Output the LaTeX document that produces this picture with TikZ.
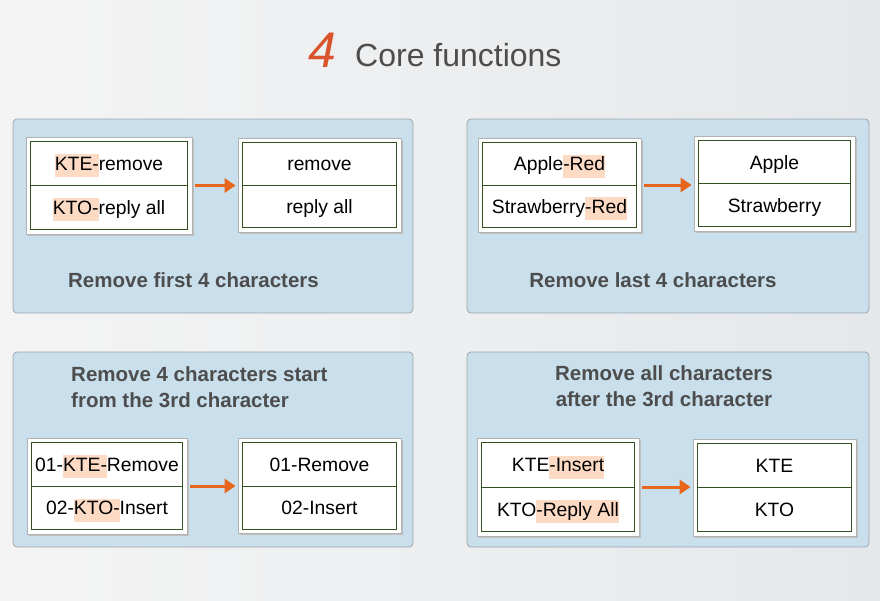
\documentclass[tikz,border=0pt]{standalone}
\usepackage{fontspec}
\setmainfont{Liberation Sans}
\usepackage{xcolor}
\usetikzlibrary{positioning,calc,arrows.meta}

\definecolor{bgleft}{HTML}{F4F4F4}
\definecolor{bgright}{HTML}{E5E8EB}
\definecolor{panelfill}{HTML}{C9DFEB}
\definecolor{paneldraw}{HTML}{A0A6AB}
\definecolor{titleorange}{HTML}{D9532B}
\definecolor{arroworange}{HTML}{E8651C}
\definecolor{hlpeach}{HTML}{FCDAC4}
\definecolor{cellgreen}{HTML}{33501F}
\definecolor{textgray}{HTML}{4D4D4D}

\newcommand{\hl}[1]{{\setlength{\fboxsep}{0pt}\colorbox{hlpeach}{\strut #1}}}

\tikzset{
  panel/.style={draw=paneldraw, fill=panelfill, rounded corners=4pt, line width=0.8pt},
  outbox/.style={draw=black!30, fill=white, inner sep=0pt, line width=0.8pt},
  inbox/.style={draw=cellgreen, line width=0.9pt},
  cell/.style={inner sep=0pt, anchor=base, font=\fontsize{19.3}{23}\selectfont},
  caption/.style={inner sep=0pt, text=textgray, font=\fontsize{20.5}{26}\selectfont\bfseries},
  flow/.style={draw=arroworange, line width=3pt, -{Triangle[length=11pt,width=14pt]},
    shorten <=3pt, shorten >=2pt}
}

\begin{document}
\begin{tikzpicture}[x=1pt,y=-1pt]
    % background
    \useasboundingbox (0,0) rectangle (880,600);
    \shade[left color=bgleft, right color=bgright] (0,0) rectangle (880,600);

    % title
    \node [anchor=base west, inner sep=0pt, text=titleorange,
           font=\fontsize{50}{50}\selectfont\itshape] (num) at (308,67) {4};
    \node [anchor=base west, inner sep=0pt, text=textgray,
           font=\fontsize{32}{32}\selectfont] (title) at (355,66.5) {Core functions};

    % panels
    \draw[panel] (13,119) rectangle (413,313);
    \draw[panel] (467,119) rectangle (869,313);
    \draw[panel] (13,352) rectangle (413,547);
    \draw[panel] (467,352) rectangle (869,547);

    % tables
    \foreach \n/\x/\y/\w/\h/\top/\bot in {
        srcA/109/185.5/166/97/{\hl{KTE-}remove}/{\hl{KTO-}reply all},
        dstA/319.5/185/163/94/{remove}/{reply all},
        srcB/559.5/185/163/94/{Apple\hl{-Red}}/{Strawberry\hl{-Red}},
        dstB/774.5/183.5/161/95/{Apple}/{Strawberry},
        srcC/107/486/160/96/{01-\hl{KTE-}Remove}/{02-\hl{KTO-}Insert},
        dstC/319.5/486/163/95/{01-Remove}/{02-Insert},
        srcD/558/487/162/98/{KTE\hl{-Insert}}/{KTO\hl{-Reply All}},
        dstD/774.5/487.5/163/97/{KTE}/{KTO}} {
        \fill[black!25] (\x-\w/2+1.5,\y-\h/2+1.5) rectangle (\x+\w/2+1.5,\y+\h/2+1.5);
        \node[outbox, minimum width=\w, minimum height=\h] (\n) at (\x,\y) {};
        \draw[inbox] ([xshift=4.5pt,yshift=-4.5pt]\n.north west)
            rectangle ([xshift=-4.5pt,yshift=4.5pt]\n.south east);
        \draw[inbox] ([xshift=4.5pt]\n.west) -- ([xshift=-4.5pt]\n.east);
        \node[cell] (\n-top) at (\x,{\y-\h/4+9.25}) {\top};
        \node[cell] (\n-bot) at (\x,{\y+\h/4+4.75}) {\bot};
    }

    % arrows
    \foreach \s/\d in {srcA/dstA, srcB/dstB, srcC/dstC, srcD/dstD}
        \draw[flow] (\s.east) -- (\s.east -| \d.west);

    % captions
    \node[caption] (capA) at (193.5,280) {Remove first 4 characters};
    \node[caption] (capB) at (653,280) {Remove last 4 characters};
    \node[caption, anchor=west, align=left] (capC) at (71,387)
        {Remove 4 characters start\\from the 3rd character};
    \node[caption, align=center] (capD) at (664,386.5)
        {Remove all characters\\after the 3rd character};
\end{tikzpicture}
\end{document}
